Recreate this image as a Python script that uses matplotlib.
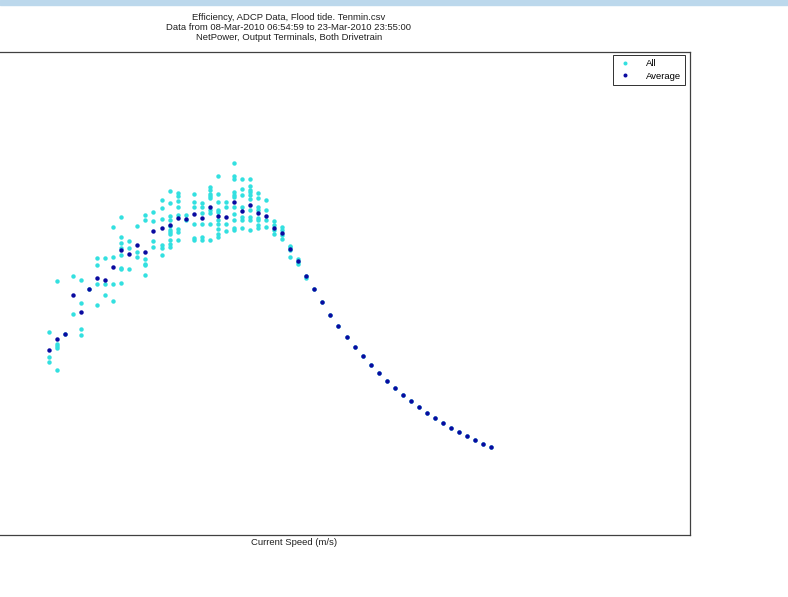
import matplotlib.pyplot as plt
from matplotlib.patches import Rectangle

plt.rcParams['font.family'] = ['Liberation Sans', 'DejaVu Sans']

# speed bins (m/s)
speed = [1.00, 1.05, 1.10, 1.15, 1.20, 1.25, 1.30, 1.35, 1.40, 1.45,
         1.50, 1.55, 1.60, 1.65, 1.70, 1.75, 1.80, 1.85, 1.90, 1.95,
         2.00, 2.05, 2.10, 2.15, 2.20, 2.25, 2.30, 2.35, 2.40, 2.45,
         2.50, 2.55, 2.60, 2.65, 2.70, 2.75, 2.80, 2.85, 2.90, 2.95,
         3.00, 3.05, 3.10, 3.15, 3.20, 3.25, 3.30, 3.35, 3.40, 3.45,
         3.50, 3.55, 3.60, 3.65, 3.70, 3.75]

# bin averages
avg_eff = [0.370, 0.393, 0.402, 0.481, 0.447, 0.493, 0.515, 0.511, 0.536, 0.571,
           0.563, 0.581, 0.566, 0.609, 0.614, 0.621, 0.635, 0.633, 0.643, 0.634,
           0.657, 0.638, 0.637, 0.666, 0.649, 0.661, 0.645, 0.639, 0.615, 0.604,
           0.573, 0.549, 0.518, 0.493, 0.466, 0.441, 0.418, 0.397, 0.377, 0.358,
           0.340, 0.324, 0.309, 0.295, 0.281, 0.269, 0.257, 0.245, 0.235, 0.225,
           0.215, 0.207, 0.198, 0.190, 0.183, 0.177]

# every ten-minute sample, grouped by speed bin
all_eff = [
    [0.407, 0.357, 0.347],
    [0.508, 0.383, 0.379, 0.375, 0.331],
    [0.402],
    [0.519, 0.443],
    [0.510, 0.464, 0.412, 0.401],
    [0.493],
    [0.555, 0.541, 0.502, 0.461],
    [0.554, 0.502, 0.480],
    [0.617, 0.557, 0.502, 0.469],
    [0.637, 0.597, 0.585, 0.575, 0.561, 0.535, 0.533, 0.505],
    [0.589, 0.575, 0.533],
    [0.619, 0.566, 0.557],
    [0.640, 0.630, 0.553, 0.543, 0.540, 0.520],
    [0.646, 0.629, 0.588, 0.577],
    [0.671, 0.654, 0.632, 0.581, 0.575, 0.560],
    [0.689, 0.664, 0.638, 0.631, 0.618, 0.611, 0.607, 0.603, 0.590, 0.582, 0.577],
    [0.685, 0.678, 0.668, 0.657, 0.641, 0.613, 0.607, 0.590],
    [0.641, 0.631],
    [0.683, 0.667, 0.657, 0.622, 0.595, 0.590],
    [0.665, 0.657, 0.645, 0.623, 0.597, 0.591],
    [0.697, 0.690, 0.683, 0.678, 0.675, 0.650, 0.645, 0.623, 0.590],
    [0.718, 0.682, 0.667, 0.651, 0.647, 0.630, 0.623, 0.613, 0.602, 0.597],
    [0.667, 0.657, 0.623, 0.609],
    [0.745, 0.719, 0.712, 0.687, 0.681, 0.677, 0.657, 0.643, 0.630, 0.615, 0.610],
    [0.713, 0.693, 0.681, 0.657, 0.637, 0.630, 0.615],
    [0.713, 0.698, 0.691, 0.687, 0.680, 0.673, 0.650, 0.637, 0.630, 0.610],
    [0.685, 0.675, 0.657, 0.651, 0.635, 0.630, 0.620, 0.615],
    [0.670, 0.650, 0.631, 0.617],
    [0.628, 0.620, 0.610, 0.603],
    [0.617, 0.610, 0.600, 0.593],
    [0.579, 0.577, 0.570, 0.557],
    [0.553, 0.546, 0.542],
    [0.518, 0.514],
    [0.493], [0.466], [0.441], [0.418], [0.397], [0.377], [0.358],
    [0.340], [0.324], [0.309], [0.295], [0.281], [0.269], [0.257],
    [0.245], [0.235], [0.225], [0.215], [0.207], [0.198], [0.190],
    [0.183], [0.177],
]

all_x = []
all_y = []
for s, vals in zip(speed, all_eff):
    for v in vals:
        all_x.append(s)
        all_y.append(v)

fig = plt.figure(figsize=(7.88, 5.97), dpi=100)

# light blue strip along the top edge
fig.patches.append(Rectangle((0, 1 - 5 / 597), 1, 5 / 597, transform=fig.transFigure,
                             color='#BCD8EC', zorder=0))

ax = fig.add_axes([-112 / 788, 62 / 597, 802 / 788, 483 / 597])
ax.plot(all_x, all_y, 'o', color='#33E0E0', ms=3.2, mew=0, label='All')
ax.plot(speed, avg_eff, 'o', color='#0A0AA0', ms=3.2, mew=0, label='Average')

ax.set_xlim(0, 4.985)
ax.set_ylim(0, 0.966)
ax.set_xticks([])
ax.set_yticks([])
for sp in ax.spines.values():
    sp.set_color('#404040')
    sp.set_linewidth(0.9)

ax.set_title('Efficiency, ADCP Data, Flood tide. Tenmin.csv\n'
             'Data from 08-Mar-2010 06:54:59 to 23-Mar-2010 23:55:00\n'
             'NetPower, Output Terminals, Both Drivetrain',
             fontsize=6.8, linespacing=1.1, pad=9, color='#202020')
ax.set_xlabel('Current Speed (m/s)', fontsize=6.8, color='#202020')
ax.xaxis.set_label_coords(0.506, -0.006)

leg = ax.legend(loc='upper right', bbox_to_anchor=(797 / 802, 1 - 3 / 483),
                borderaxespad=0, fancybox=False, framealpha=1, edgecolor='#303030',
                fontsize=6.8, handlelength=1.6, handletextpad=1.4, borderpad=0.45,
                labelspacing=0.35, markerscale=0.9)
leg.get_frame().set_linewidth(0.7)

fig.savefig('out.png', dpi=100)
